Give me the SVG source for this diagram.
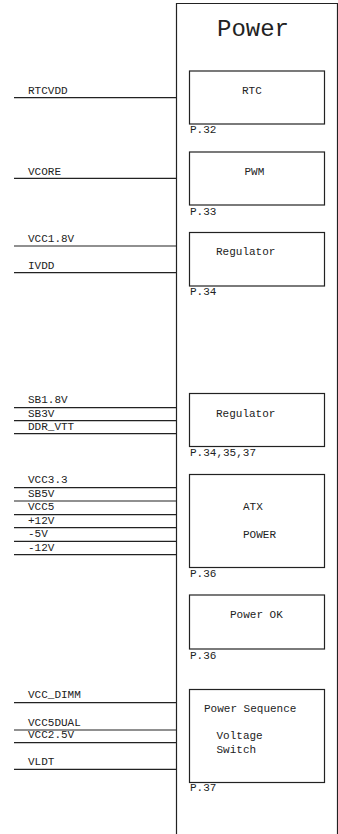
<svg xmlns="http://www.w3.org/2000/svg" width="338" height="834" viewBox="0 0 338 834">
<style>
text{font-family:"Liberation Mono","Courier New",monospace;font-size:11px;fill:#222}
.t{font-size:24px}
.b{fill:none;stroke:#222;stroke-width:1.2}
.w{stroke:#222;stroke-width:1.2}
</style>
<rect width="338" height="834" fill="#fff"/>
<g id="power">
<path class="b" d="M176.5 840V3.5H337.5V840"/>
<text class="t" x="217" y="36">Power</text>
</g>
<g id="rtc"><rect class="b" x="189.5" y="71" width="135" height="53"/><text x="242" y="94">RTC</text><text x="190" y="133">P.32</text></g>
<g id="pwm"><rect class="b" x="189.5" y="152" width="135" height="53"/><text x="244.5" y="175">PWM</text><text x="190" y="215">P.33</text></g>
<g id="reg1"><rect class="b" x="189.5" y="232.5" width="135" height="53.5"/><text x="216" y="254.5">Regulator</text><text x="190" y="295">P.34</text></g>
<g id="reg2"><rect class="b" x="189.5" y="393.5" width="135" height="53"/><text x="216" y="416.5">Regulator</text><text x="190" y="456">P.34,35,37</text></g>
<g id="atx"><rect class="b" x="189.5" y="474.5" width="135" height="93"/><text x="243" y="510">ATX</text><text x="243" y="537.5">POWER</text><text x="190" y="576.5">P.36</text></g>
<g id="pok"><rect class="b" x="189.5" y="595" width="135" height="54"/><text x="230" y="617.5">Power OK</text><text x="190" y="658.5">P.36</text></g>
<g id="pseq"><rect class="b" x="189.5" y="689.5" width="135" height="93"/><text x="204" y="711.5">Power Sequence</text><text x="216.5" y="738.5">Voltage</text><text x="216.5" y="752.5">Switch</text><text x="190" y="791">P.37</text></g>
<g id="connectors">
<path class="w" d="M14 97.7H176M14 178.3H176M14 246H176M14 272.7H176M14 407.7H176M14 420.7H176M14 433.7H176M14 487.7H176M14 501H176M14 514.7H176M14 527.7H176M14 541.3H176M14 554.7H176M14 702.7H176M14 730H176M14 742.7H176M14 769.3H176"/>
<text x="28" y="94">RTCVDD</text>
<text x="28" y="175">VCORE</text>
<text x="28" y="242.3">VCC1.8V</text>
<text x="28" y="269">IVDD</text>
<text x="28" y="403.3">SB1.8V</text>
<text x="28" y="416.7">SB3V</text>
<text x="28" y="430">DDR_VTT</text>
<text x="28" y="483.3">VCC3.3</text>
<text x="28" y="496.7">SB5V</text>
<text x="28" y="510.3">VCC5</text>
<text x="28" y="523.5">+12V</text>
<text x="28" y="537">-5V</text>
<text x="28" y="550.5">-12V</text>
<text x="28" y="698.3">VCC_DIMM</text>
<text x="28" y="725.7">VCC5DUAL</text>
<text x="28" y="738.3">VCC2.5V</text>
<text x="28" y="765">VLDT</text>
</g>
</svg>
